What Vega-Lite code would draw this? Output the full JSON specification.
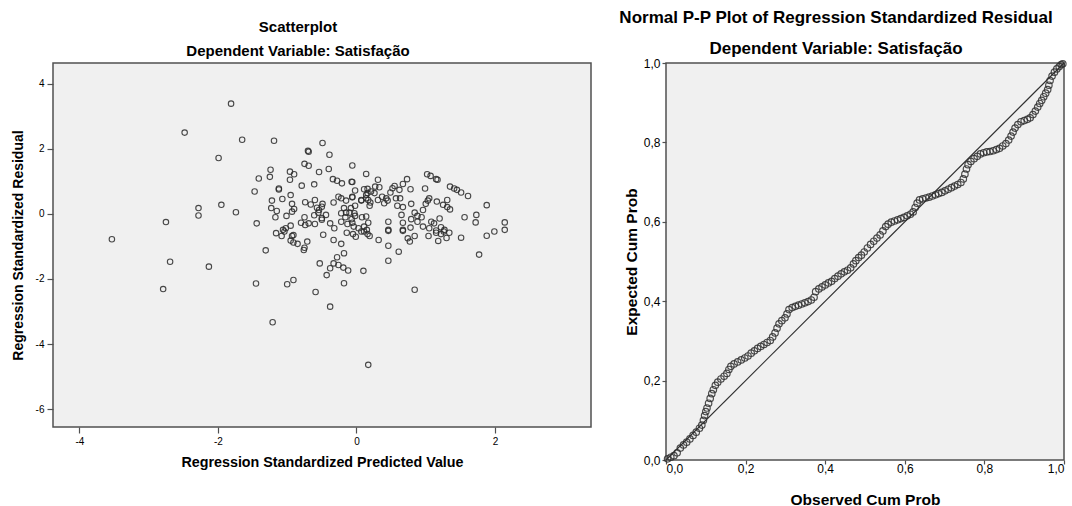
{
  "$schema": "https://vega.github.io/schema/vega-lite/v6.json",
  "background": "white",
  "padding": {"left": 10, "top": 8, "right": 4, "bottom": 0},
  "spacing": 26,
  "config": {
    "font": "Liberation Sans",
    "view": {"fill": "#f0f0f0", "stroke": "#505050", "strokeWidth": 1.5},
    "axis": {"grid": false, "domain": false, "tickColor": "#505050", "tickWidth": 1.2, "labelColor": "#000", "titleColor": "#000", "labelFont": "Liberation Sans", "titleFont": "Liberation Sans", "titleFontWeight": "bold"},
    "title": {"font": "Liberation Sans", "fontWeight": "bold", "subtitleFont": "Liberation Sans", "subtitleFontWeight": "bold", "color": "#000", "subtitleColor": "#000", "anchor": "middle", "frame": "group"}
  },
  "datasets": {
    "scatter": [
      {"pred":-3.53,"resid":-0.78},{"pred":-1.81,"resid":3.39},{"pred":-2.48,"resid":2.50},{"pred":-1.65,"resid":2.28},{"pred":-1.19,"resid":2.25},{"pred":-1.99,"resid":1.72},{"pred":-0.49,"resid":2.18},{"pred":-0.39,"resid":1.82},{"pred":-0.70,"resid":1.94},{"pred":-0.69,"resid":1.91},
      {"pred":-2.75,"resid":-0.25},{"pred":-2.28,"resid":0.18},{"pred":-2.28,"resid":-0.05},{"pred":-1.95,"resid":0.28},{"pred":-1.74,"resid":0.05},{"pred":-1.44,"resid":-0.29},{"pred":-1.47,"resid":0.69},{"pred":-1.41,"resid":1.09},{"pred":-1.24,"resid":1.36},{"pred":-1.25,"resid":1.14},
      {"pred":-1.12,"resid":0.78},{"pred":-1.12,"resid":0.75},{"pred":-1.31,"resid":-1.12},{"pred":1.77,"resid":-1.25},{"pred":2.14,"resid":-0.26},{"pred":2.14,"resid":-0.49},{"pred":1.88,"resid":0.27},{"pred":1.73,"resid":-0.03},{"pred":1.72,"resid":-0.26},{"pred":1.99,"resid":-0.54},
      {"pred":1.88,"resid":-0.67},{"pred":1.61,"resid":0.55},{"pred":1.56,"resid":-0.10},{"pred":1.51,"resid":-0.73},{"pred":-2.69,"resid":-1.47},{"pred":-2.13,"resid":-1.62},{"pred":-2.79,"resid":-2.31},{"pred":-1.45,"resid":-2.14},{"pred":-1.00,"resid":-2.16},{"pred":-0.91,"resid":-2.03},
      {"pred":-1.21,"resid":-3.33},{"pred":-0.59,"resid":-2.40},{"pred":-0.38,"resid":-2.85},{"pred":0.17,"resid":-4.64},{"pred":0.84,"resid":-2.33},{"pred":0.10,"resid":-1.75},{"pred":0.46,"resid":-1.44},{"pred":0.61,"resid":-1.16},{"pred":-0.53,"resid":-1.52},{"pred":-0.43,"resid":-1.88},
      {"pred":-0.38,"resid":-1.67},{"pred":-0.33,"resid":-1.52},{"pred":-0.28,"resid":-1.33},{"pred":-0.26,"resid":-1.57},{"pred":-0.19,"resid":-1.65},{"pred":-0.12,"resid":-1.74},{"pred":-0.18,"resid":-1.21},{"pred":-0.18,"resid":-2.13},{"pred":-0.76,"resid":-1.11},{"pred":-1.16,"resid":-0.59},
      {"pred":-1.08,"resid":-0.68},{"pred":-1.04,"resid":-0.54},{"pred":-0.95,"resid":-0.82},{"pred":-0.91,"resid":-0.88},{"pred":-0.85,"resid":-0.92},{"pred":-0.91,"resid":-0.65},{"pred":-0.71,"resid":-0.85},{"pred":-0.75,"resid":-1.04},{"pred":-0.48,"resid":-0.64},{"pred":-0.33,"resid":-0.80},
      {"pred":-0.22,"resid":-0.92},{"pred":-0.14,"resid":-0.58},{"pred":-0.05,"resid":-0.62},{"pred":0.07,"resid":-0.54},{"pred":0.16,"resid":-0.62},{"pred":0.19,"resid":-0.68},{"pred":0.32,"resid":-0.80},{"pred":0.46,"resid":-0.52},{"pred":0.67,"resid":-0.52},{"pred":0.84,"resid":-0.68},
      {"pred":0.77,"resid":-0.85},{"pred":0.46,"resid":-0.98},{"pred":1.04,"resid":-0.68},{"pred":1.15,"resid":-0.58},{"pred":1.22,"resid":-0.62},{"pred":1.26,"resid":-0.54},{"pred":1.34,"resid":-0.58},{"pred":1.18,"resid":-0.83},{"pred":1.30,"resid":-0.74},
      {"pred":-0.75,"resid":1.54},{"pred":-0.69,"resid":1.48},{"pred":-0.96,"resid":1.30},{"pred":-0.90,"resid":1.22},{"pred":-0.96,"resid":1.05},{"pred":-0.54,"resid":1.29},{"pred":-0.40,"resid":1.38},{"pred":-0.79,"resid":0.87},{"pred":-0.61,"resid":0.91},{"pred":-0.95,"resid":0.58},
      {"pred":-1.07,"resid":0.46},{"pred":-1.22,"resid":0.41},{"pred":-1.23,"resid":0.18},{"pred":-1.15,"resid":0.09},{"pred":-0.93,"resid":0.31},{"pred":-0.90,"resid":0.15},{"pred":-0.93,"resid":0.07},{"pred":-0.74,"resid":0.36},{"pred":-0.66,"resid":0.29},{"pred":-0.60,"resid":0.43},
      {"pred":-0.49,"resid":0.31},{"pred":-0.54,"resid":0.12},{"pred":-1.01,"resid":-0.06},{"pred":-1.17,"resid":-0.10},{"pred":-0.75,"resid":-0.10},{"pred":-0.80,"resid":-0.27},{"pred":-0.61,"resid":-0.04},{"pred":-0.55,"resid":0.04},{"pred":-0.50,"resid":-0.13},{"pred":-0.44,"resid":-0.03},
      {"pred":-0.69,"resid":-0.29},{"pred":-0.60,"resid":-0.31},{"pred":-1.06,"resid":-0.49},{"pred":-1.02,"resid":-0.44},{"pred":-0.95,"resid":-0.36},{"pred":-0.93,"resid":-0.68},{"pred":-0.38,"resid":-0.29},{"pred":-0.32,"resid":-0.44},
      {"pred":-0.34,"resid":1.07},{"pred":-0.28,"resid":1.02},{"pred":-0.21,"resid":0.94},{"pred":-0.06,"resid":1.49},{"pred":-0.07,"resid":0.99},{"pred":-0.06,"resid":0.98},{"pred":0.14,"resid":1.23},{"pred":-0.02,"resid":0.72},{"pred":0.07,"resid":0.43},{"pred":0.07,"resid":0.41},
      {"pred":-0.26,"resid":0.53},{"pred":-0.22,"resid":0.48},{"pred":-0.15,"resid":0.41},{"pred":-0.33,"resid":0.35},{"pred":-0.18,"resid":0.18},{"pred":-0.15,"resid":0.04},{"pred":-0.02,"resid":0.25},{"pred":0.14,"resid":0.58},{"pred":0.17,"resid":0.43},{"pred":-0.22,"resid":0.02},
      {"pred":-0.10,"resid":0.04},{"pred":-0.03,"resid":0.02},{"pred":-0.07,"resid":-0.16},{"pred":0.08,"resid":-0.10},{"pred":-0.22,"resid":-0.24},{"pred":-0.13,"resid":-0.31},{"pred":-0.04,"resid":-0.39},{"pred":0.03,"resid":-0.44},{"pred":0.11,"resid":-0.54},{"pred":0.14,"resid":-0.08},
      {"pred":0.17,"resid":-0.27},{"pred":-0.01,"resid":-0.70},{"pred":0.16,"resid":0.77},{"pred":0.31,"resid":1.05},{"pred":0.27,"resid":0.84},{"pred":0.33,"resid":0.82},{"pred":0.11,"resid":0.76},{"pred":0.16,"resid":0.64},{"pred":0.21,"resid":0.69},{"pred":0.26,"resid":0.64},
      {"pred":0.14,"resid":0.48},{"pred":0.20,"resid":0.35},{"pred":0.31,"resid":0.43},{"pred":0.11,"resid":-0.39},{"pred":0.15,"resid":-0.49},{"pred":0.37,"resid":0.53},{"pred":0.43,"resid":0.48},{"pred":0.45,"resid":0.41},{"pred":0.40,"resid":0.33},{"pred":0.52,"resid":0.79},
      {"pred":0.55,"resid":0.86},{"pred":0.62,"resid":0.74},{"pred":0.67,"resid":0.92},{"pred":0.73,"resid":1.07},{"pred":0.49,"resid":0.66},{"pred":0.57,"resid":0.48},{"pred":0.63,"resid":0.48},{"pred":0.78,"resid":0.76},{"pred":0.59,"resid":0.25},{"pred":0.67,"resid":0.21},
      {"pred":0.46,"resid":-0.24},{"pred":0.46,"resid":-0.49},{"pred":0.65,"resid":-0.03},{"pred":0.67,"resid":-0.27},{"pred":0.67,"resid":-0.49},{"pred":0.79,"resid":-0.16},{"pred":0.78,"resid":-0.42},{"pred":0.79,"resid":0.31},{"pred":0.84,"resid":0.04},{"pred":0.88,"resid":-0.06},
      {"pred":0.94,"resid":-0.10},{"pred":0.96,"resid":0.12},{"pred":1.00,"resid":0.31},{"pred":1.02,"resid":1.22},{"pred":1.07,"resid":1.17},{"pred":1.15,"resid":1.07},{"pred":1.17,"resid":1.05},{"pred":0.99,"resid":0.78},{"pred":1.05,"resid":0.48},{"pred":1.03,"resid":0.41},
      {"pred":1.16,"resid":0.38},{"pred":1.25,"resid":0.28},{"pred":1.31,"resid":0.43},{"pred":1.31,"resid":0.21},{"pred":1.35,"resid":0.14},{"pred":1.35,"resid":0.84},{"pred":1.41,"resid":0.78},{"pred":1.45,"resid":0.74},{"pred":1.51,"resid":0.66},{"pred":0.88,"resid":-0.24},
      {"pred":1.08,"resid":-0.24},{"pred":1.12,"resid":-0.29},{"pred":1.20,"resid":-0.14},{"pred":0.96,"resid":-0.39},{"pred":1.05,"resid":-0.44},{"pred":1.15,"resid":-0.51},{"pred":1.22,"resid":-0.41},{"pred":1.27,"resid":-0.49},{"pred":0.74,"resid":-0.75},{"pred":-0.74,"resid":-0.34},
      {"pred":-0.57,"resid":0.19},{"pred":-0.50,"resid":0.22},{"pred":-0.50,"resid":-0.18},{"pred":-0.06,"resid":-0.27},{"pred":-0.02,"resid":-0.06},{"pred":-0.08,"resid":0.18},{"pred":-0.16,"resid":-0.10},{"pred":0.19,"resid":0.25},{"pred":-0.06,"resid":0.53},{"pred":-0.06,"resid":0.51}
    ],
    "pp": [
      {"obs":0.004,"exp":0.003},{"obs":0.012,"exp":0.007},{"obs":0.020,"exp":0.011},{"obs":0.028,"exp":0.018},{"obs":0.036,"exp":0.030},{"obs":0.044,"exp":0.038},{"obs":0.052,"exp":0.045},{"obs":0.060,"exp":0.053},{"obs":0.068,"exp":0.062},{"obs":0.076,"exp":0.070},
      {"obs":0.084,"exp":0.080},{"obs":0.090,"exp":0.088},{"obs":0.094,"exp":0.100},{"obs":0.097,"exp":0.112},{"obs":0.100,"exp":0.122},{"obs":0.103,"exp":0.131},{"obs":0.107,"exp":0.143},{"obs":0.111,"exp":0.155},{"obs":0.115,"exp":0.167},{"obs":0.119,"exp":0.177},
      {"obs":0.124,"exp":0.188},{"obs":0.130,"exp":0.196},{"obs":0.138,"exp":0.204},{"obs":0.146,"exp":0.211},{"obs":0.153,"exp":0.218},{"obs":0.158,"exp":0.228},{"obs":0.163,"exp":0.236},{"obs":0.171,"exp":0.242},{"obs":0.180,"exp":0.247},{"obs":0.189,"exp":0.252},
      {"obs":0.198,"exp":0.257},{"obs":0.206,"exp":0.262},{"obs":0.214,"exp":0.269},{"obs":0.222,"exp":0.275},{"obs":0.230,"exp":0.281},{"obs":0.238,"exp":0.286},{"obs":0.246,"exp":0.291},{"obs":0.254,"exp":0.296},{"obs":0.262,"exp":0.301},{"obs":0.268,"exp":0.310},
      {"obs":0.274,"exp":0.320},{"obs":0.279,"exp":0.332},{"obs":0.284,"exp":0.343},{"obs":0.291,"exp":0.351},{"obs":0.299,"exp":0.358},{"obs":0.304,"exp":0.368},{"obs":0.309,"exp":0.379},{"obs":0.317,"exp":0.384},{"obs":0.325,"exp":0.387},{"obs":0.333,"exp":0.390},
      {"obs":0.341,"exp":0.393},{"obs":0.349,"exp":0.396},{"obs":0.357,"exp":0.399},{"obs":0.365,"exp":0.403},{"obs":0.372,"exp":0.410},{"obs":0.376,"exp":0.424},{"obs":0.384,"exp":0.431},{"obs":0.392,"exp":0.436},{"obs":0.400,"exp":0.441},{"obs":0.408,"exp":0.446},
      {"obs":0.416,"exp":0.450},{"obs":0.424,"exp":0.457},{"obs":0.432,"exp":0.463},{"obs":0.440,"exp":0.469},{"obs":0.448,"exp":0.474},{"obs":0.456,"exp":0.478},{"obs":0.464,"exp":0.484},{"obs":0.471,"exp":0.494},{"obs":0.477,"exp":0.502},{"obs":0.484,"exp":0.510},
      {"obs":0.491,"exp":0.516},{"obs":0.498,"exp":0.524},{"obs":0.506,"exp":0.534},{"obs":0.514,"exp":0.543},{"obs":0.522,"exp":0.551},{"obs":0.530,"exp":0.559},{"obs":0.538,"exp":0.567},{"obs":0.545,"exp":0.577},{"obs":0.552,"exp":0.588},{"obs":0.558,"exp":0.594},
      {"obs":0.566,"exp":0.599},{"obs":0.574,"exp":0.602},{"obs":0.582,"exp":0.605},{"obs":0.590,"exp":0.608},{"obs":0.598,"exp":0.611},{"obs":0.606,"exp":0.615},{"obs":0.614,"exp":0.619},{"obs":0.621,"exp":0.625},{"obs":0.626,"exp":0.636},{"obs":0.631,"exp":0.647},
      {"obs":0.637,"exp":0.655},{"obs":0.645,"exp":0.658},{"obs":0.653,"exp":0.660},{"obs":0.661,"exp":0.662},{"obs":0.669,"exp":0.665},{"obs":0.677,"exp":0.668},{"obs":0.685,"exp":0.671},{"obs":0.693,"exp":0.674},{"obs":0.701,"exp":0.678},{"obs":0.709,"exp":0.682},
      {"obs":0.717,"exp":0.686},{"obs":0.725,"exp":0.690},{"obs":0.733,"exp":0.694},{"obs":0.741,"exp":0.699},{"obs":0.747,"exp":0.708},{"obs":0.751,"exp":0.720},{"obs":0.755,"exp":0.733},{"obs":0.759,"exp":0.744},{"obs":0.766,"exp":0.752},{"obs":0.774,"exp":0.759},
      {"obs":0.782,"exp":0.765},{"obs":0.790,"exp":0.771},{"obs":0.798,"exp":0.774},{"obs":0.806,"exp":0.776},{"obs":0.814,"exp":0.777},{"obs":0.822,"exp":0.779},{"obs":0.830,"exp":0.782},{"obs":0.838,"exp":0.785},{"obs":0.846,"exp":0.791},{"obs":0.854,"exp":0.797},
      {"obs":0.861,"exp":0.806},{"obs":0.867,"exp":0.816},{"obs":0.872,"exp":0.826},{"obs":0.877,"exp":0.836},{"obs":0.884,"exp":0.845},{"obs":0.892,"exp":0.852},{"obs":0.900,"exp":0.855},{"obs":0.908,"exp":0.858},{"obs":0.915,"exp":0.862},{"obs":0.922,"exp":0.870},
      {"obs":0.928,"exp":0.879},{"obs":0.934,"exp":0.889},{"obs":0.939,"exp":0.898},{"obs":0.944,"exp":0.906},{"obs":0.949,"exp":0.915},{"obs":0.954,"exp":0.924},{"obs":0.959,"exp":0.933},{"obs":0.962,"exp":0.944},{"obs":0.965,"exp":0.956},{"obs":0.970,"exp":0.967},
      {"obs":0.976,"exp":0.977},{"obs":0.982,"exp":0.985},{"obs":0.988,"exp":0.991},{"obs":0.993,"exp":0.996},{"obs":0.997,"exp":0.998}
    ],
    "diag": [{"x0":0,"y0":0,"x1":1,"y1":1}]
  },
  "hconcat": [
    {
      "width": 538,
      "height": 364,
      "title": {"text": "Scatterplot", "subtitle": "Dependent Variable: Satisfação", "fontSize": 15, "subtitleFontSize": 15, "subtitlePadding": 9, "offset": 4, "dx": -24},
      "data": {"name": "scatter"},
      "mark": {"type": "point", "shape": "circle", "filled": false, "size": 30, "stroke": "#2a2a2a", "strokeWidth": 1.1, "opacity": 0.85},
      "encoding": {
        "x": {"field": "pred", "type": "quantitative", "scale": {"domain": [-4.38, 3.385], "nice": false, "zero": false},
              "axis": {"values": [-4, -2, 0, 2], "labelExpr": "toString(datum.value)", "title": "Regression Standardized Predicted Value", "titleFontSize": 14.3, "labelFontSize": 10, "tickSize": 6, "labelPadding": 3, "titlePadding": 9}},
        "y": {"field": "resid", "type": "quantitative", "scale": {"domain": [-6.55, 4.64], "nice": false, "zero": false},
              "axis": {"values": [-6, -4, -2, 0, 2, 4], "labelExpr": "toString(datum.value)", "title": "Regression Standardized Residual", "titleFontSize": 14, "labelFontSize": 10, "tickSize": 6, "labelPadding": 3, "titlePadding": 10}}
      }
    },
    {
      "width": 398,
      "height": 397,
      "title": {"text": "Normal P-P Plot of Regression Standardized Residual", "subtitle": "Dependent Variable: Satisfação", "fontSize": 17, "subtitleFontSize": 17, "subtitlePadding": 14, "offset": -1, "dx": -29},
      "layer": [
        {
          "data": {"name": "diag"},
          "mark": {"type": "rule", "color": "#303030", "strokeWidth": 1.2},
          "encoding": {
            "x": {"field": "x0", "type": "quantitative", "scale": {"domain": [0, 1], "nice": false}},
            "y": {"field": "y0", "type": "quantitative", "scale": {"domain": [0, 1], "nice": false}},
            "x2": {"field": "x1"},
            "y2": {"field": "y1"}
          }
        },
        {
          "data": {"name": "pp"},
          "mark": {"type": "point", "shape": "circle", "filled": false, "size": 42, "stroke": "#303030", "strokeWidth": 1.2, "opacity": 0.85},
          "encoding": {
            "x": {"field": "obs", "type": "quantitative", "scale": {"domain": [0, 1], "nice": false},
                  "axis": {"values": [0, 0.2, 0.4, 0.6, 0.8, 1], "labelExpr": "replace(format(datum.value, '.1f'), '.', ',')", "title": "Observed Cum Prob", "titleFontSize": 15.5, "labelFontSize": 12, "tickSize": 4, "labelPadding": -1, "titlePadding": 18}},
            "y": {"field": "exp", "type": "quantitative", "scale": {"domain": [0, 1], "nice": false},
                  "axis": {"values": [0, 0.2, 0.4, 0.6, 0.8, 1], "labelExpr": "replace(format(datum.value, '.1f'), '.', ',')", "title": "Expected Cum Prob", "titleFontSize": 15.5, "labelFontSize": 12, "tickSize": 4, "labelPadding": 2, "titlePadding": 4}}
          }
        }
      ]
    }
  ]
}
